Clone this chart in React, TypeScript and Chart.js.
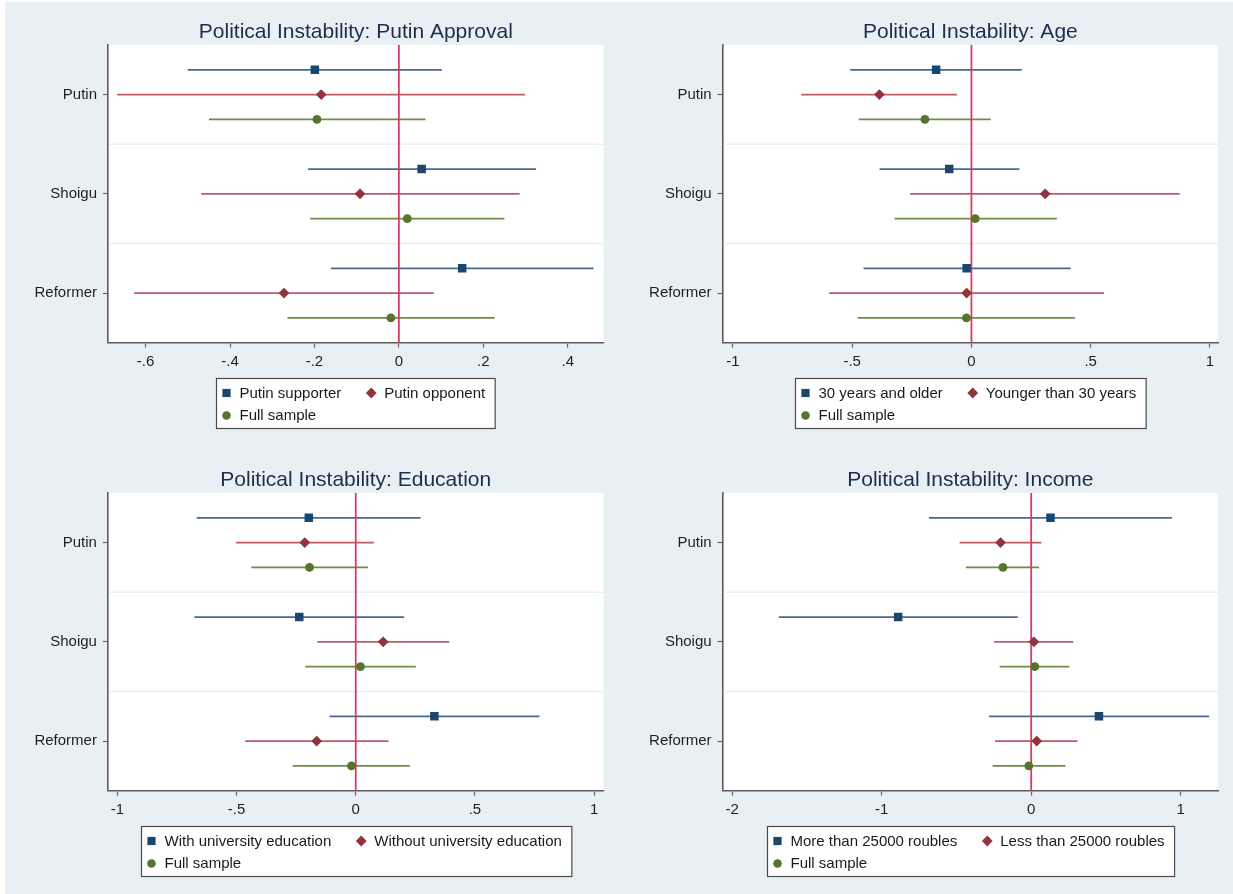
import React, { useEffect, useRef } from 'react';
import { Chart, registerables } from 'chart.js';

Chart.register(...registerables);

// ---- Shared categories and layout constants ----
const candidates = ['Putin', 'Shoigu', 'Reformer'];
const groupDividers = [1.5, 2.5];
const seriesOffsets = [-0.25, 0, 0.25];

const FONT = '"Liberation Sans", Arial, Helvetica, sans-serif';
const NAVY = '#1a476f';
const MAROON = '#90353b';
const FOREST = '#55752f';
const NAVY_CI = '#48698f';
const MAROON_CI = '#bf5a66';
const FOREST_CI = '#6e8d48';

// ---- Putin approval ----
const approvalLabels = ['Putin supporter', 'Putin opponent', 'Full sample'];
const approvalSupporterEst = [-0.199, 0.054, 0.15];
const approvalSupporterCI = [[-0.5, 0.102], [-0.215, 0.325], [-0.161, 0.461]];
const approvalOpponentEst = [-0.184, -0.092, -0.272];
const approvalOpponentCI = [[-0.667, 0.299], [-0.468, 0.286], [-0.627, 0.083]];
const approvalFullEst = [-0.194, 0.02, -0.019];
const approvalFullCI = [[-0.45, 0.063], [-0.21, 0.25], [-0.264, 0.227]];
const approvalTicks = [-0.6, -0.4, -0.2, 0, 0.2, 0.4];
const approvalRange = [-0.689, 0.485];

// ---- Age ----
const ageLabels = ['30 years and older', 'Younger than 30 years', 'Full sample'];
const ageOlderEst = [-0.148, -0.093, -0.02];
const ageOlderCI = [[-0.508, 0.211], [-0.385, 0.201], [-0.452, 0.416]];
const ageYoungerEst = [-0.386, 0.309, -0.02];
const ageYoungerCI = [[-0.713, -0.061], [-0.257, 0.873], [-0.596, 0.556]];
const ageFullEst = [-0.195, 0.016, -0.021];
const ageFullCI = [[-0.472, 0.081], [-0.322, 0.358], [-0.477, 0.434]];
const ageTicks = [-1, -0.5, 0, 0.5, 1];
const ageRange = [-1.043, 1.034];

// ---- Education ----
const eduLabels = ['With university education', 'Without university education', 'Full sample'];
const eduWithEst = [-0.197, -0.237, 0.33];
const eduWithCI = [[-0.667, 0.272], [-0.677, 0.203], [-0.11, 0.771]];
const eduWithoutEst = [-0.214, 0.115, -0.164];
const eduWithoutCI = [[-0.502, 0.076], [-0.161, 0.392], [-0.464, 0.138]];
const eduFullEst = [-0.194, 0.02, -0.018];
const eduFullCI = [[-0.438, 0.052], [-0.212, 0.252], [-0.265, 0.227]];
const eduTicks = [-1, -0.5, 0, 0.5, 1];
const eduRange = [-1.04, 1.04];

// ---- Income ----
const incomeLabels = ['More than 25000 roubles', 'Less than 25000 roubles', 'Full sample'];
const incomeMoreEst = [0.129, -0.89, 0.453];
const incomeMoreCI = [[-0.684, 0.942], [-1.688, -0.09], [-0.282, 1.19]];
const incomeLessEst = [-0.205, 0.018, 0.037];
const incomeLessCI = [[-0.479, 0.068], [-0.248, 0.282], [-0.242, 0.31]];
const incomeFullEst = [-0.189, 0.024, -0.016];
const incomeFullCI = [[-0.437, 0.053], [-0.211, 0.255], [-0.258, 0.229]];
const incomeTicks = [-2, -1, 0, 1];
const incomeRange = [-2.064, 1.25];

type MarkerStyle = 'rect' | 'rectRot' | 'circle';

interface SeriesDef {
  label: string;
  est: number[];
  ci: number[][];
  style: MarkerStyle;
  color: string;
  ciColor: string;
  radius: number;
}

function makeSeries(labels: string[], ests: number[][], cis: number[][][]): SeriesDef[] {
  const styles: MarkerStyle[] = ['rect', 'rectRot', 'circle'];
  const colors = [NAVY, MAROON, FOREST];
  const ciColors = [NAVY_CI, MAROON_CI, FOREST_CI];
  const radii = [6, 5.4, 4.4];
  return labels.map((label, k) => ({
    label,
    est: ests[k],
    ci: cis[k],
    style: styles[k],
    color: colors[k],
    ciColor: ciColors[k],
    radius: radii[k],
  }));
}

function formatTick(v: number): string {
  if (v === 0) return '0';
  const s = String(Math.abs(v)).replace(/^0\./, '.');
  return (v < 0 ? '-' : '') + s;
}

function drawMarker(ctx: CanvasRenderingContext2D, style: MarkerStyle, x: number, y: number, r: number, color: string) {
  ctx.fillStyle = color;
  ctx.beginPath();
  if (style === 'rect') {
    const s = r * Math.SQRT1_2;
    ctx.rect(x - s, y - s, 2 * s, 2 * s);
  } else if (style === 'rectRot') {
    ctx.moveTo(x, y - r);
    ctx.lineTo(x + r, y);
    ctx.lineTo(x, y + r);
    ctx.lineTo(x - r, y);
    ctx.closePath();
  } else {
    ctx.arc(x, y, r, 0, Math.PI * 2);
  }
  ctx.fill();
}

// Plot-region fill, dividers, confidence intervals, zero line, title and legend box.
const coefDecor = {
  id: 'coefDecor',
  beforeDraw(chart: any) {
    const { ctx, chartArea } = chart;
    ctx.save();
    ctx.fillStyle = '#ffffff';
    ctx.fillRect(chartArea.left, chartArea.top, chartArea.right - chartArea.left, chartArea.bottom - chartArea.top);
    ctx.restore();
  },
  beforeDatasetsDraw(chart: any) {
    const { ctx, chartArea, scales } = chart;
    const xs = scales.x;
    const ys = scales.y;
    ctx.save();
    // group dividers
    ctx.strokeStyle = '#e9f0f3';
    ctx.lineWidth = 1.5;
    groupDividers.forEach((d) => {
      const py = ys.getPixelForValue(d);
      ctx.beginPath();
      ctx.moveTo(chartArea.left + 1, py);
      ctx.lineTo(chartArea.right, py);
      ctx.stroke();
    });
    // confidence intervals
    chart.data.datasets.forEach((ds: any) => {
      ctx.strokeStyle = ds.ciColor;
      ctx.lineWidth = 1.7;
      ds.data.forEach((pt: any, i: number) => {
        const [lo, hi] = ds.ci[i];
        const py = ys.getPixelForValue(pt.y);
        ctx.beginPath();
        ctx.moveTo(xs.getPixelForValue(lo), py);
        ctx.lineTo(xs.getPixelForValue(hi), py);
        ctx.stroke();
      });
    });
    // reference line at zero
    const zx = xs.getPixelForValue(0);
    ctx.strokeStyle = '#d43d66';
    ctx.lineWidth = 1.8;
    ctx.beginPath();
    ctx.moveTo(zx, chartArea.top);
    ctx.lineTo(zx, chartArea.bottom);
    ctx.stroke();
    ctx.restore();
  },
  afterDraw(chart: any, _args: any, opts: any) {
    const { ctx, chartArea } = chart;
    const cx = (chartArea.left + chartArea.right) / 2;
    ctx.save();
    // title
    ctx.fillStyle = '#1e2c4e';
    ctx.font = `21px ${FONT}`;
    ctx.textAlign = 'center';
    ctx.textBaseline = 'middle';
    ctx.fillText(opts.title, cx, 32);

    // legend box: two columns, third entry on the second row
    const ds = chart.data.datasets;
    ctx.font = `15px ${FONT}`;
    const w = ds.map((d: any) => ctx.measureText(d.label).width);
    const col1 = Math.max(w[0], w[2]);
    const padL = 10;
    const mGap = 13;
    const colGap = 30;
    const padR = 10;
    const boxW = padL + mGap + col1 + colGap + mGap + w[1] + padR;
    const boxL = Math.round(cx - boxW / 2) + 0.5;
    const boxT = 378.5;
    const boxH = 50;
    ctx.fillStyle = '#ffffff';
    ctx.fillRect(boxL, boxT, boxW, boxH);
    ctx.strokeStyle = '#4a4a4a';
    ctx.lineWidth = 1.2;
    ctx.strokeRect(boxL, boxT, boxW, boxH);

    const rowY = [boxT + 14.5, boxT + 37];
    const slots = [
      { x: boxL + padL, y: rowY[0] },
      { x: boxL + padL + mGap + col1 + colGap, y: rowY[0] },
      { x: boxL + padL, y: rowY[1] },
    ];
    const legendR: Record<string, number> = { rect: 5.8, rectRot: 5.4, circle: 4.3 };
    ds.forEach((d: any, k: number) => {
      const s = slots[k];
      drawMarker(ctx, d.pointStyle, s.x, s.y, legendR[d.pointStyle], d.backgroundColor);
      ctx.fillStyle = '#1a1a1a';
      ctx.textAlign = 'left';
      ctx.textBaseline = 'middle';
      ctx.fillText(d.label, s.x + mGap, s.y + 0.5);
    });
    ctx.restore();
  },
};

interface PanelProps {
  title: string;
  series: SeriesDef[];
  ticks: number[];
  range: number[];
  left: number;
  top: number;
  width: number;
  height: number;
  plotLeft: number;
  plotRight: number;
}

const PLOT_TOP = 45;
const PLOT_BOTTOM = 342.7;

function CoefPanel(p: PanelProps) {
  const ref = useRef<HTMLCanvasElement | null>(null);

  useEffect(() => {
    if (!ref.current) return;
    const datasets = p.series.map((s, k) => ({
      type: 'scatter' as const,
      label: s.label,
      data: s.est.map((v, i) => ({ x: v, y: i + 1 + seriesOffsets[k] })),
      ci: s.ci,
      ciColor: s.ciColor,
      pointStyle: s.style,
      pointRadius: s.radius,
      backgroundColor: s.color,
      borderColor: s.color,
      borderWidth: 0,
      showLine: false,
    }));

    const chart = new Chart(ref.current, {
      type: 'scatter',
      data: { datasets: datasets as any },
      plugins: [coefDecor as any],
      options: {
        animation: false,
        responsive: false,
        events: [],
        layout: {
          padding: { top: PLOT_TOP, right: p.width - p.plotRight, bottom: 0, left: 0 },
        },
        plugins: {
          legend: { display: false },
          tooltip: { enabled: false },
          title: { display: false },
          coefDecor: { title: p.title },
        } as any,
        scales: {
          x: {
            type: 'linear',
            min: p.range[0],
            max: p.range[1],
            afterBuildTicks: (scale: any) => {
              scale.ticks = p.ticks.map((v) => ({ value: v }));
            },
            afterFit: (scale: any) => {
              scale.height = p.height - PLOT_BOTTOM;
            },
            ticks: {
              autoSkip: false,
              maxRotation: 0,
              padding: 5,
              color: '#1f1f1f',
              font: { family: FONT, size: 15 },
              callback: (v: any) => formatTick(Number(v)),
            },
            grid: {
              drawOnChartArea: false,
              drawTicks: true,
              tickLength: 5,
              tickColor: '#666666',
              tickWidth: 1.2,
            },
            border: { display: true, color: '#5c5c5c', width: 1.6 },
          },
          y: {
            type: 'linear',
            min: 0.5,
            max: 3.5,
            reverse: true,
            afterBuildTicks: (scale: any) => {
              scale.ticks = candidates.map((_, i) => ({ value: i + 1 }));
            },
            afterFit: (scale: any) => {
              scale.width = p.plotLeft;
            },
            ticks: {
              autoSkip: false,
              padding: 6,
              color: '#1f1f1f',
              font: { family: FONT, size: 15 },
              callback: (v: any) => candidates[Math.round(Number(v)) - 1] ?? '',
            },
            grid: {
              drawOnChartArea: false,
              drawTicks: true,
              tickLength: 5,
              tickColor: '#666666',
              tickWidth: 1.2,
            },
            border: { display: true, color: '#5c5c5c', width: 1.6 },
          },
        },
      } as any,
    });
    return () => chart.destroy();
  }, []);

  return (
    <canvas
      ref={ref}
      width={p.width}
      height={p.height}
      style={{ position: 'absolute', left: p.left, top: p.top, width: p.width, height: p.height }}
    />
  );
}

export default function App() {
  const approval = makeSeries(
    approvalLabels,
    [approvalSupporterEst, approvalOpponentEst, approvalFullEst],
    [approvalSupporterCI, approvalOpponentCI, approvalFullCI]
  );
  const age = makeSeries(ageLabels, [ageOlderEst, ageYoungerEst, ageFullEst], [ageOlderCI, ageYoungerCI, ageFullCI]);
  const edu = makeSeries(eduLabels, [eduWithEst, eduWithoutEst, eduFullEst], [eduWithCI, eduWithoutCI, eduFullCI]);
  const income = makeSeries(
    incomeLabels,
    [incomeMoreEst, incomeLessEst, incomeFullEst],
    [incomeMoreCI, incomeLessCI, incomeFullCI]
  );

  return (
    <div style={{ position: 'absolute', left: 0, top: 0, width: 1233, height: 894, background: '#ffffff', overflow: 'hidden' }}>
      <div style={{ position: 'absolute', left: 5, top: 2, right: 0, bottom: 0, background: '#e8f0f3' }} />
      <CoefPanel title="Political Instability: Putin Approval" series={approval} ticks={approvalTicks} range={approvalRange}
        left={0} top={0} width={616} height={448} plotLeft={108} plotRight={603.6} />
      <CoefPanel title="Political Instability: Age" series={age} ticks={ageTicks} range={ageRange}
        left={616} top={0} width={617} height={448} plotLeft={106.6} plotRight={602.1} />
      <CoefPanel title="Political Instability: Education" series={edu} ticks={eduTicks} range={eduRange}
        left={0} top={448} width={616} height={446} plotLeft={107.9} plotRight={603.6} />
      <CoefPanel title="Political Instability: Income" series={income} ticks={incomeTicks} range={incomeRange}
        left={616} top={448} width={617} height={446} plotLeft={106.6} plotRight={602.1} />
    </div>
  );
}
